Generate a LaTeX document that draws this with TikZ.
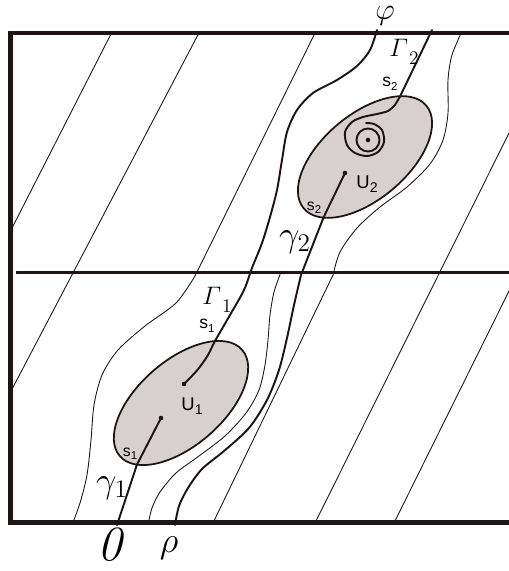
\documentclass[tikz,border=0pt]{standalone}
\usepackage{amsmath}
\usepackage{fontspec}
\setsansfont{Liberation Sans}
\definecolor{ink}{RGB}{30,20,20}
\definecolor{blobfill}{RGB}{214,208,207}
\newcommand{\ulab}[1]{{\sffamily\fontsize{10.5}{12}\selectfont U\raisebox{-.45ex}{\fontsize{8}{9}\selectfont #1}}}
\newcommand{\slab}[2]{{\sffamily\fontsize{#1}{12}\selectfont s\raisebox{-.4ex}{\fontsize{6.5}{8}\selectfont #2}}}
\newcommand{\glab}[1]{{\fontsize{20}{22}\selectfont$#1$}}
\newcommand{\Glab}[1]{{\fontsize{14}{16}\selectfont$\varGamma$\kern.5pt\raisebox{-.7ex}{\fontsize{11}{12}\selectfont #1}}}

\begin{document}
\begin{tikzpicture}[x=0.02cm, y=-0.02cm,
  frame/.style={ink, line width=2.8pt},
  level/.style={ink, line width=0.5pt},
  track/.style={ink, line width=1.1pt, line cap=round},
  region/.style={draw=ink, fill=blobfill, line width=1pt},
  pt/.style={circle, fill=ink, inner sep=0pt, minimum size=2.6pt}]
\useasboundingbox (0,0) rectangle (509,571);

\draw[region] (181,403) ellipse [x radius=1.62cm, y radius=0.85cm, rotate=41];
\draw[region] (365,157) ellipse [x radius=1.60cm, y radius=0.85cm, rotate=40];

\node[pt] (u1) at (184,384) {};
\node[pt] (v1) at (161,418) {};
\node[pt] (u2) at (345,173) {};
\node[pt] (c2) at (368,140) {};
\coordinate (s1a) at (215,341);
\coordinate (s1b) at (137,464.5);
\coordinate (s2a) at (400,96.5);
\coordinate (s2b) at (323.5,217.5);

\begin{scope}
\clip (10.5,33) rectangle (509,522.5);
\draw[level] (10,232) -- (113,30);
\draw[level] (10,393) -- (201,29);
\draw[level] (317,29) -- (195,276);
\draw[level] plot[smooth] coordinates {(195,276) (176,303) (145,326) (118,350) (102,375) (94,405) (91,440) (87,475) (80,503) (72,525)};
\draw[level] plot[smooth] coordinates {(281,272) (274,292) (270,315) (268,340) (265,365) (259,390) (246,413) (225,436) (199,456) (176,473) (160,492) (152,508) (148,525)};
\draw[level] (212,525) -- (333,275);
\draw[level] plot[smooth] coordinates {(333,275) (340,252) (357,228) (380,207) (407,187) (430,164) (443,140) (448,113) (448,80) (452,55) (463,29)};
\draw[level] (314,525) -- (511,129);
\draw[level] (393,525) -- (511,287);
\end{scope}

\draw[track] plot[smooth] coordinates {(377,30) (370,50) (357,66) (337,80) (313,93) (297,110) (287,132) (282,160) (277,190) (270,217) (262,243) (252,268) (244,290) (230,315) (s1a) (208,355) (199,368) (190,378) (u1.center)};
\draw[track] (u2.center) -- (s2b) -- plot[smooth] coordinates {(301,275) (294,305) (287,338) (279,370) (267,400) (249,428) (224,451) (202,469) (188,488) (179,506) (175,525)};
\draw[track] (v1.center) -- (s1b) -- (117,525);
\draw[track] (432,30) -- (s2a) -- plot[smooth] coordinates {(395,105) (388,111) (377,114) (363,117) (352,122) (345,132) (347,145) (355,153) (367,156) (378,152) (384,142) (382,130) (374,124) (366,123)};
\draw[track] (c2.center) circle [radius=0.23cm];

\draw[ink, line width=1.7pt] (16,272.5) -- (509,272.5);
\draw[frame] (509,33) -- (10.5,33) -- (10.5,522.5) -- (509,522.5);

\node[inner sep=0pt] (phi) at (385,16) {\fontsize{18}{20}\selectfont$\varphi$};
\node (rho) at (169,548) {\glab{\rho}};
\node[inner sep=0pt] (zero) at (110,545) {\fontsize{28}{30}\selectfont\itshape 0};
\node (g1) at (112,488) {\glab{\gamma_1}};
\node (g2) at (295,242) {\glab{\gamma_2}};
\node (G1) at (217,300) {\Glab{1}};
\node (G2) at (404,52) {\Glab{2}};
\node (U1) at (192,406) {\ulab{1}};
\node (U2) at (367,184) {\ulab{2}};
\node (s1up) at (207,326) {\slab{10}{1}};
\node (s1lo) at (130,454) {\slab{9}{1}};
\node (s2up) at (390,84) {\slab{10}{2}};
\node (s2lo) at (314,208) {\slab{9}{2}};
\end{tikzpicture}
\end{document}
